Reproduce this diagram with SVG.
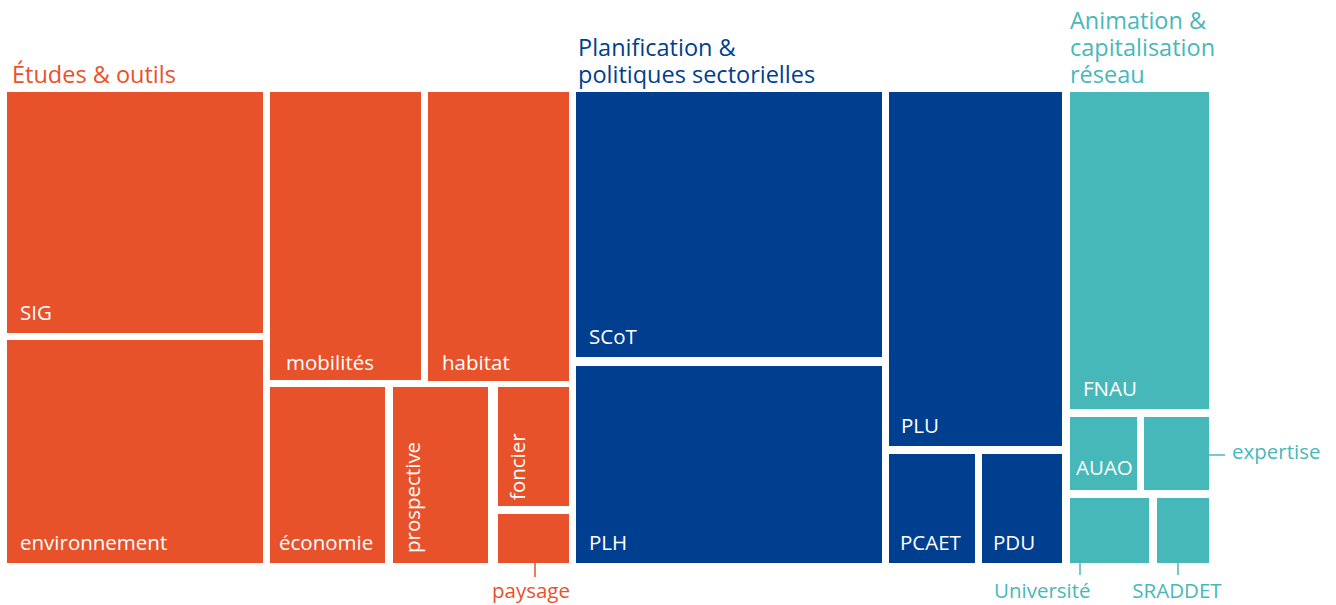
<svg xmlns="http://www.w3.org/2000/svg" width="1336" height="605" viewBox="0 0 1336 605">
<style>
.o{fill:#E8522A}.b{fill:#003F8F}.t{fill:#47B8BA}
text{font-family:"Open Sans","Noto Sans",sans-serif}
.h{font-size:23.5px}
.s{font-size:20.5px}
.l{font-size:20.5px;fill:#FFFFFF}
.ho{fill:#E8522A}.hb{fill:#003F8F}.ht{fill:#47B8BA}
.lo{stroke:#E8522A;stroke-width:1.5}.lt{stroke:#47B8BA;stroke-width:1.5}
</style>
<rect width="1336" height="605" fill="#FFFFFF"/>
<g id="headers">
<text class="h ho" x="12" y="83">Études &amp; outils</text>
<text class="h hb" x="578" y="56">Planification &amp;</text>
<text class="h hb" x="578" y="83">politiques sectorielles</text>
<text class="h ht" x="1070" y="29">Animation &amp;</text>
<text class="h ht" x="1070" y="56">capitalisation</text>
<text class="h ht" x="1070" y="83">réseau</text>
</g>
<g id="sig"><rect class="o" x="7" y="92" width="256" height="241"/><text class="l" x="20" y="320">SIG</text></g>
<g id="environnement"><rect class="o" x="7" y="340" width="256" height="223"/><text class="l" x="20" y="550">environnement</text></g>
<g id="mobilites"><rect class="o" x="270" y="92" width="151" height="288"/><text class="l" x="286" y="370">mobilités</text></g>
<g id="habitat"><rect class="o" x="428" y="92" width="141" height="289"/><text class="l" x="442" y="370">habitat</text></g>
<g id="economie"><rect class="o" x="270" y="387" width="115" height="176"/><text class="l" x="279" y="550">économie</text></g>
<g id="prospective"><rect class="o" x="393" y="387" width="95" height="176"/><text class="l" transform="translate(420,553) rotate(-90)">prospective</text></g>
<g id="foncier"><rect class="o" x="498" y="387" width="71" height="119"/><text class="l" transform="translate(525,500) rotate(-90)">foncier</text></g>
<g id="paysage"><rect class="o" x="498" y="514" width="71" height="49"/><text class="s ho" x="531" y="598" text-anchor="middle">paysage</text></g>
<g id="scot"><rect class="b" x="576" y="92" width="306" height="265"/><text class="l" x="589" y="344">SCoT</text></g>
<g id="plh"><rect class="b" x="576" y="366" width="306" height="197"/><text class="l" x="589" y="550">PLH</text></g>
<g id="plu"><rect class="b" x="889" y="92" width="173" height="354"/><text class="l" x="901" y="433">PLU</text></g>
<g id="pcaet"><rect class="b" x="889" y="454" width="86" height="109"/><text class="l" x="900" y="550">PCAET</text></g>
<g id="pdu"><rect class="b" x="982" y="454" width="80" height="109"/><text class="l" x="993" y="550">PDU</text></g>
<g id="fnau"><rect class="t" x="1070" y="92" width="139" height="317"/><text class="l" x="1083" y="396">FNAU</text></g>
<g id="auao"><rect class="t" x="1070" y="417" width="67" height="73"/><text class="l" x="1076" y="475">AUAO</text></g>
<g id="expertise"><rect class="t" x="1144" y="417" width="65" height="73"/><text class="s ht" x="1232" y="459">expertise</text></g>
<g id="universite"><rect class="t" x="1070" y="498" width="79" height="65"/><text class="s ht" x="994" y="598">Université</text></g>
<g id="sraddet"><rect class="t" x="1157" y="498" width="52" height="65"/><text class="s ht" x="1177" y="598" text-anchor="middle">SRADDET</text></g>
<g id="connectors">
<line class="lo" x1="535" y1="563" x2="535" y2="577"/>
<line class="lt" x1="1209" y1="455" x2="1225" y2="455"/>
<line class="lt" x1="1080" y1="563" x2="1080" y2="575"/>
<line class="lt" x1="1178" y1="563" x2="1178" y2="575"/>
</g>
</svg>
